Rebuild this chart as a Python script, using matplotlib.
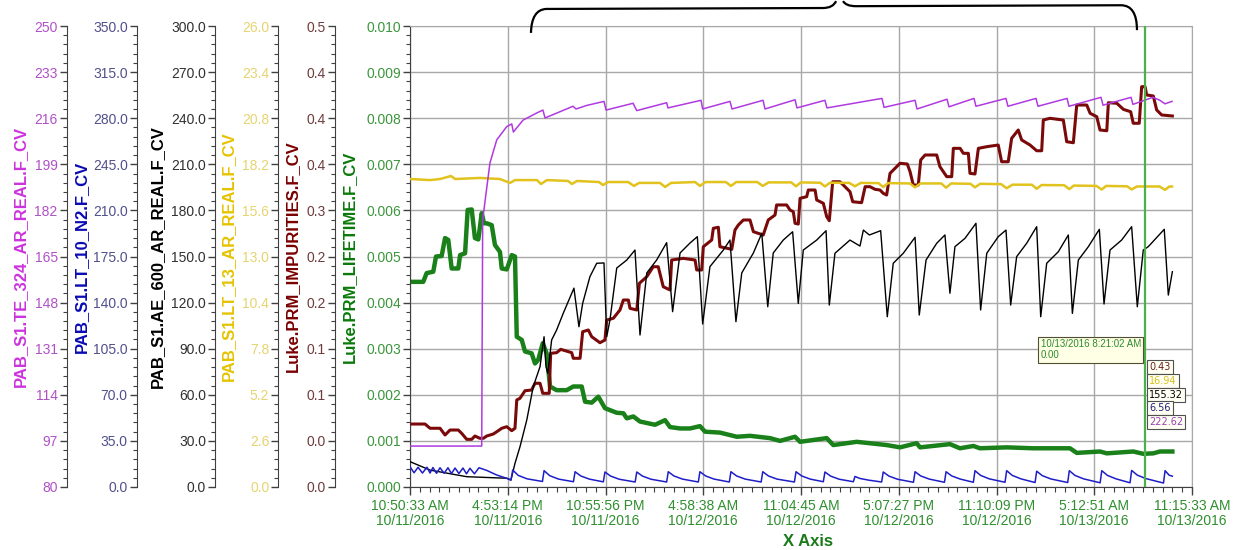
import numpy as np
import matplotlib
matplotlib.use('Agg')
import matplotlib.pyplot as plt
import matplotlib.transforms as mtransforms
from matplotlib.path import Path
from matplotlib.patches import PathPatch
from matplotlib.ticker import AutoMinorLocator

plt.rcParams['font.family'] = ['Liberation Sans', 'DejaVu Sans']

# x values are hours after 10/11/2016 10:50:33 AM
span_hours = 48.4167
x_labels = ['10:50:33 AM\n10/11/2016', '4:53:14 PM\n10/11/2016', '10:55:56 PM\n10/11/2016',
            '4:58:38 AM\n10/12/2016', '11:04:45 AM\n10/12/2016', '5:07:27 PM\n10/12/2016',
            '11:10:09 PM\n10/12/2016', '5:12:51 AM\n10/13/2016', '11:15:33 AM\n10/13/2016']

# Luke.PRM_LIFETIME.F_CV (green, main axis)
lifetime_hours = [0.00, 0.82, 1.03, 1.44, 1.61, 1.96, 2.17, 2.37, 2.58, 2.99,
                  3.10, 3.41, 3.57, 3.82, 4.02, 4.23, 4.44, 4.58, 4.75, 5.06,
                  5.26, 5.57, 5.68, 5.99, 6.30, 6.50, 6.61, 6.92, 7.12, 7.53,
                  7.74, 7.94, 8.22, 8.46, 8.67, 9.08, 9.70, 10.11, 10.63, 10.84,
                  11.25, 11.66, 12.07, 12.80, 13.21, 13.42, 13.83, 14.24, 15.17, 15.79,
                  16.10, 16.72, 17.34, 17.95, 18.27, 19.19, 20.23, 21.05, 22.29, 22.91,
                  23.84, 24.15, 25.80, 26.21, 27.66, 29.51, 30.34, 31.37, 31.58, 33.43,
                  34.05, 34.88, 35.29, 36.94, 38.59, 40.86, 41.28, 42.72, 43.14, 44.78,
                  45.40, 46.02, 46.43, 47.20]
lifetime_values = [0.00445, 0.00445, 0.00464, 0.00467, 0.00500, 0.00501, 0.00540, 0.00536, 0.00474, 0.00474,
                   0.00503, 0.00507, 0.00601, 0.00602, 0.00540, 0.00537, 0.00594, 0.00572, 0.00572, 0.00568,
                   0.00525, 0.00510, 0.00474, 0.00472, 0.00503, 0.00500, 0.00326, 0.00319, 0.00294, 0.00290,
                   0.00268, 0.00276, 0.00312, 0.00290, 0.00218, 0.00210, 0.00210, 0.00218, 0.00218, 0.00185,
                   0.00183, 0.00196, 0.00171, 0.00161, 0.00160, 0.00149, 0.00153, 0.00142, 0.00135, 0.00145,
                   0.00130, 0.00127, 0.00127, 0.00132, 0.00120, 0.00118, 0.00109, 0.00111, 0.00106, 0.00100,
                   0.00109, 0.00098, 0.00106, 0.00091, 0.00098, 0.00091, 0.00086, 0.00095, 0.00086, 0.00093,
                   0.00084, 0.00089, 0.00084, 0.00086, 0.00084, 0.00084, 0.00074, 0.00077, 0.00073, 0.00077,
                   0.00072, 0.00073, 0.00077, 0.00077]

# Luke.PRM_IMPURITIES.F_CV (maroon)
impurity_hours = [0.00, 0.93, 1.24, 1.86, 2.17, 2.48, 2.99, 3.20, 3.51, 3.82,
                  4.02, 4.33, 4.54, 4.75, 5.16, 5.47, 5.68, 5.99, 6.30, 6.50,
                  6.61, 6.81, 7.12, 7.53, 7.74, 8.05, 8.22, 8.62, 8.71, 9.08,
                  9.33, 10.01, 10.11, 10.53, 10.69, 11.04, 11.25, 11.76, 12.07, 12.18,
                  12.59, 13.00, 13.21, 13.52, 13.62, 14.04, 14.20, 14.66, 15.06, 15.37,
                  15.68, 16.10, 16.20, 16.92, 17.65, 17.75, 18.06, 18.16, 18.68, 18.78,
                  19.09, 19.19, 19.92, 20.12, 20.33, 20.64, 21.05, 21.26, 21.87, 22.18,
                  22.60, 22.70, 23.32, 23.53, 23.73, 23.84, 24.04, 24.15, 24.56, 24.66,
                  25.08, 25.18, 25.59, 25.80, 25.96, 26.17, 26.62, 26.83, 27.24, 27.41,
                  27.96, 28.18, 28.48, 28.79, 29.10, 29.30, 29.51, 29.72, 30.34, 30.79,
                  30.96, 31.16, 31.47, 31.62, 31.89, 32.61, 32.81, 33.23, 33.54, 33.64,
                  34.06, 34.26, 34.57, 34.67, 34.98, 35.19, 35.71, 36.42, 36.63, 37.04,
                  37.25, 37.66, 37.87, 38.39, 38.80, 39.11, 39.21, 39.62, 40.45, 40.66,
                  41.07, 41.28, 41.90, 42.11, 42.52, 42.72, 43.14, 43.24, 43.76, 44.17,
                  44.62, 44.78, 45.15, 45.30, 45.51, 45.61, 46.02, 46.23, 46.54, 47.20]
impurity_values = [.0683, .0683, .0637, .0637, .0564, .0618, .0618, .0582, .0517, .0517,
                   .0553, .0528, .0528, .0553, .0575, .0611, .0637, .0654, .0611, .0637,
                   .0944, .0962, .1044, .1052, .1125, .1125, .1016, .1016, .1450, .1457,
                   .1493, .1457, .1396, .1396, .1684, .1703, .1630, .1565, .1594, .1811,
                   .1830, .1920, .2028, .2028, .1938, .1920, .2209, .2281, .2389, .2389,
                   .2172, .2137, .2462, .2480, .2462, .2354, .2354, .2606, .2679, .2806,
                   .2817, .2606, .2578, .2787, .2842, .2896, .2896, .2769, .2733, .2896,
                   .2950, .3059, .3059, .3004, .2986, .2860, .2852, .3131, .3149, .3221,
                   .3221, .3113, .3077, .2932, .2888, .3311, .3311, .3275, .3203, .3094,
                   .3084, .3257, .3257, .3229, .3221, .3185, .3167, .3402, .3511, .3503,
                   .3420, .3275, .3275, .3547, .3601, .3601, .3474, .3366, .3366, .3673,
                   .3673, .3619, .3619, .3402, .3395, .3673, .3691, .3709, .3528, .3528,
                   .3782, .3872, .3764, .3709, .3647, .3647, .3980, .3999, .3980, .3745,
                   .3734, .4143, .4143, .4053, .4016, .3872, .3864, .4168, .4162, .4096,
                   .4070, .3945, .3945, .4342, .4342, .4252, .4241, .4089, .4035, .4024]

# PAB_S1.LT_13_AR_REAL.F_CV (yellow)
lt13_hours = [0.00, 1.24, 1.86, 2.54, 2.79, 4.33, 5.57, 6.19, 6.50, 7.86,
              8.11, 8.48, 9.78, 10.03, 10.34, 11.70, 11.95, 12.26, 13.50, 13.87,
              14.18, 15.48, 15.79, 16.16,
              17.65, 17.95, 18.30, 19.55, 19.87, 20.20, 21.50, 21.84, 22.20,
              23.60, 23.90, 24.20, 25.40, 25.69, 26.00, 27.20, 27.55, 27.90,
              29.00, 29.30, 29.60, 30.95, 31.27, 31.60, 32.90, 33.19, 33.50,
              34.70, 34.98, 35.30, 36.60, 36.94, 37.30, 38.50, 38.80, 39.10,
              40.50, 40.82, 41.10, 42.50, 42.83, 43.10, 44.40, 44.68, 45.00,
              46.40, 46.75, 47.00, 47.18]
lt13_values = [17.37, 17.31, 17.37, 17.54, 17.37, 17.43, 17.37, 17.15, 17.31, 17.31,
               17.09, 17.31, 17.26, 17.09, 17.26, 17.20, 17.03, 17.20, 17.20, 16.98,
               17.15, 17.15, 16.92, 17.15,
               17.20, 16.98, 17.20, 17.20, 16.98, 17.20, 17.20, 16.98, 17.18,
               17.18, 16.96, 17.18, 17.16, 16.95, 17.16, 17.15, 16.96, 17.15,
               17.14, 16.92, 17.14, 17.12, 16.90, 17.12, 17.12, 16.88, 17.12,
               17.10, 16.90, 17.10, 17.08, 16.85, 17.05, 17.05, 16.82, 17.03,
               17.02, 16.80, 17.00, 16.98, 16.78, 16.98, 16.96, 16.78, 16.95,
               16.95, 16.76, 16.94, 16.95]

# PAB_S1.AE_600_AR_REAL.F_CV (black)
ae600_hours = [0.00, 1.24, 3.51, 5.99, 6.25, 6.50, 6.81, 7.23, 7.63, 8.05, 8.30,
               8.42, 8.53, 8.77, 9.08, 9.49, 10.15, 10.46, 10.69, 11.14, 11.56,
               12.01, 12.18, 12.38, 12.80, 13.42, 13.93, 14.24, 14.66, 15.27, 15.89,
               16.26, 16.72, 17.34, 17.79, 18.12, 18.57, 19.40, 19.81, 20.18, 20.54,
               21.26, 21.78, 22.15, 22.49, 23.11, 23.69, 24.04, 24.35, 25.18, 25.76,
               25.96, 26.31, 27.24, 27.86, 28.07, 28.44, 29.14, 29.55, 29.92, 30.54,
               31.27, 31.53, 31.95, 32.61, 33.12, 33.43, 33.74, 34.36, 35.04, 35.33,
               35.71, 36.42, 36.90, 37.19, 37.56, 38.18, 38.80, 39.05, 39.42, 40.14,
               40.76, 41.01, 41.38, 42.00, 42.68, 42.97, 43.34, 44.06, 44.68, 45.03,
               45.40, 45.71, 46.70, 46.95, 47.20]
ae600_values = [16.5, 11.0, 6.7, 5.7, 4.6, 15.4, 26.2, 43.6, 65.3, 78.3, 97.8,
                78.3, 74.0, 95.7, 102.2, 113.1, 129.4, 104.3, 119.5, 136.9, 145.6,
                145.8, 97.8, 108.7, 142.5, 147.7, 154.2, 98.9, 139.3, 147.7, 159.0,
                114.1, 152.3, 158.8, 162.9, 106.1, 143.4, 154.2, 160.7, 107.6, 139.3,
                152.3, 165.1, 117.3, 152.3, 160.7, 166.1, 119.5, 154.2, 160.7, 166.8,
                118.4, 152.1, 160.7, 156.8, 167.2, 164.0, 166.8, 110.8, 145.6, 152.1,
                162.5, 111.9, 147.7, 158.6, 164.0, 126.1, 156.4, 161.8, 171.6, 115.2,
                152.1, 162.9, 167.2, 118.4, 149.9, 158.6, 169.4, 110.8, 145.6, 153.1,
                164.0, 113.0, 147.7, 156.4, 167.7, 119.1, 154.2, 160.7, 169.4, 117.3,
                154.2, 156.4, 167.7, 124.9, 140.1]

# PAB_S1.LT_10_N2.F_CV (blue)
lt10_hours = [0.00, 0.25, 0.50, 0.77, 1.05, 1.24, 1.42, 1.64, 1.86, 2.11,
              2.35, 2.57, 2.79, 3.03, 3.28, 3.50, 3.71, 3.99, 4.27, 4.75,
              5.37, 5.99, 6.25,
              6.36, 6.70, 7.25, 8.20, 8.30, 8.65, 9.20, 10.12,
              10.22, 10.57, 11.10, 11.97, 12.07, 12.42, 12.95, 13.94,
              14.04, 14.39, 14.92, 15.89, 15.99, 16.34, 16.87, 17.85,
              17.95, 18.30, 18.83, 19.77, 19.87, 20.22, 20.75, 21.74,
              21.84, 22.19, 22.72, 23.80, 23.90, 24.25, 24.78, 25.59,
              25.69, 26.04, 26.57, 27.45, 27.55, 27.85, 28.40, 29.20,
              29.30, 29.65, 30.18, 31.17, 31.27, 31.62, 32.15, 33.09,
              33.19, 33.54, 34.07, 34.88, 34.98, 35.33, 35.86, 36.84,
              36.94, 37.29, 37.82, 38.70, 38.80, 39.15, 39.68, 40.72,
              40.82, 41.17, 41.70, 42.73, 42.83, 43.18, 43.71, 44.58,
              44.68, 45.03, 45.56, 46.65, 46.75, 47.00, 47.20]
lt10_values = [15.4, 10.8, 15.0, 10.6, 15.0, 10.6, 14.8, 10.4, 14.6, 10.4,
               14.6, 10.2, 14.4, 10.2, 14.4, 10.0, 14.2, 10.0, 14.6, 12.6,
               9.1, 6.6, 5.2,
               12.9, 8.8, 6.2, 4.2, 12.4, 8.6, 6.0, 4.0,
               11.6, 8.4, 6.0, 3.9, 11.4, 8.3, 5.9, 3.8,
               11.4, 8.3, 5.9, 3.8, 11.6, 8.4, 6.0, 3.8,
               11.6, 8.4, 6.0, 3.8, 11.6, 8.4, 6.0, 3.8,
               11.6, 8.4, 6.0, 3.8, 11.6, 8.4, 6.0, 4.0,
               11.4, 8.3, 5.9, 4.0, 8.0, 6.5, 5.2, 3.8,
               11.4, 8.3, 5.9, 3.6, 11.6, 8.4, 6.0, 3.6,
               11.6, 8.4, 6.0, 3.6, 12.4, 8.8, 6.2, 3.6,
               12.4, 8.8, 6.2, 3.4, 12.0, 8.6, 6.1, 3.4,
               12.4, 8.8, 6.2, 3.2, 12.4, 8.8, 6.2, 3.2,
               12.6, 9.0, 6.4, 3.0, 12.4, 9.0, 8.2]

# PAB_S1.TE_324_AR_REAL.F_CV (purple)
te324_hours = [0.00, 4.44, 4.50, 4.71, 4.95, 5.37, 5.99, 6.30, 6.40, 7.00,
               7.84, 8.23, 8.36, 9.29, 10.09, 10.28, 10.94, 12.01, 12.14, 13.81,
               14.04, 15.89, 15.97, 18.02, 18.12, 19.81, 19.94, 21.86, 21.98, 23.84,
               23.96, 25.69, 25.82, 29.22, 29.35, 31.27, 31.39, 33.25, 33.37, 34.92,
               35.04, 36.90, 37.02, 38.76, 38.88, 40.68, 40.80, 42.78, 42.91, 44.64,
               44.76, 46.00, 46.43, 46.74, 47.18]
te324_values = [95.1, 95.1, 178.5, 188.4, 199.5, 208.0, 212.9, 213.9, 210.9, 215.3,
                217.9, 219.0, 216.1, 218.4, 220.4, 219.4, 220.7, 222.2, 219.0, 221.5,
                218.8, 221.7, 219.8, 222.6, 219.4, 222.2, 219.4, 222.6, 219.4, 222.8,
                219.8, 222.6, 219.8, 223.3, 220.0, 222.6, 219.4, 223.0, 220.2, 223.3,
                220.4, 223.3, 220.4, 223.3, 220.4, 223.3, 220.4, 223.7, 220.8, 223.7,
                221.1, 223.7, 222.6, 221.3, 222.2]

# axis ticks
lifetime_ticks = [0.000, 0.001, 0.002, 0.003, 0.004, 0.005, 0.006, 0.007, 0.008, 0.009, 0.010]
impurity_ticks = [0.0, 0.05, 0.1, 0.15, 0.2, 0.25, 0.3, 0.35, 0.4, 0.45, 0.5]
impurity_tick_labels = ['0.0', '0.0', '0.1', '0.1', '0.2', '0.2', '0.3', '0.4', '0.4', '0.4', '0.5']
lt13_ticks = [0.0, 2.6, 5.2, 7.8, 10.4, 13.0, 15.6, 18.2, 20.8, 23.4, 26.0]
ae600_ticks = [0, 30, 60, 90, 120, 150, 180, 210, 240, 270, 300]
lt10_ticks = [0, 35, 70, 105, 140, 175, 210, 245, 280, 315, 350]
te324_ticks = [80, 97, 114, 131, 148, 165, 182, 199, 216, 233, 250]

# cursor readout
cursor_hour = 45.51
cursor_text = '10/13/2016 8:21:02 AM\n0.00'
readouts = ['0.43', '16.94', '155.32', '6.56', '222.62']
readout_colors = ['#6b2020', '#d8c21e', '#000000', '#20207a', '#9a40b8']

AXIS_DARK = '#404040'

fig = plt.figure(figsize=(12.36, 5.5), dpi=100)
ax = fig.add_axes([410 / 1236, 63 / 550, 782 / 1236, 461 / 550])


def style_y(a, ticks, labels, tick_color, title, title_color, title_x):
    a.set_ylim(ticks[0], ticks[-1])
    a.set_yticks(ticks)
    a.set_yticklabels(labels)
    a.yaxis.set_minor_locator(AutoMinorLocator(5))
    a.tick_params(axis='y', which='major', left=True, labelleft=True, right=False,
                  labelright=False, length=5, width=1, color=AXIS_DARK,
                  labelcolor=tick_color, labelsize=10, pad=1.5)
    a.tick_params(axis='y', which='minor', left=True, right=False, length=3,
                  width=0.8, color=AXIS_DARK)
    a.set_ylabel(title, color=title_color, fontsize=12, fontweight='bold')
    a.yaxis.set_label_coords(title_x, 0.5)


def side_axis(offset):
    t = ax.twinx()
    t.spines['left'].set_position(('axes', offset))
    t.spines['left'].set_visible(True)
    t.spines['left'].set_color(AXIS_DARK)
    for s in ('right', 'top', 'bottom'):
        t.spines[s].set_visible(False)
    t.yaxis.set_ticks_position('left')
    t.yaxis.set_label_position('left')
    return t


# main (green) axis
ax.set_xlim(0, span_hours)
style_y(ax, lifetime_ticks, [f'{v:.3f}' for v in lifetime_ticks], '#3c963c',
        'Luke.PRM_LIFETIME.F_CV', '#0a7a0a', -0.068)
ax.set_xticks(np.linspace(0, span_hours, 9))
ax.set_xticklabels(x_labels)
for lab in ax.get_xticklabels():
    lab.set_linespacing(1.05)
ax.xaxis.set_minor_locator(AutoMinorLocator(10))
ax.tick_params(axis='x', which='major', length=6, width=1, color=AXIS_DARK,
               labelcolor='#2f8f2f', labelsize=10, pad=3)
ax.tick_params(axis='x', which='minor', length=3.5, width=0.8, color=AXIS_DARK)
ax.grid(True, which='major', color='#a8a8a8', lw=1)
ax.set_axisbelow(True)
for s in ('top', 'right'):
    ax.spines[s].set_color('#a8a8a8')
for s in ('left', 'bottom'):
    ax.spines[s].set_color(AXIS_DARK)
ax.set_xlabel('X Axis', fontsize=12, fontweight='bold', color='#1a7a1a')
ax.xaxis.set_label_coords(0.509, -0.102)
ax.plot(lifetime_hours, lifetime_values, color='#1a801a', lw=3.2)

imp_ax = side_axis(-0.0959)
style_y(imp_ax, impurity_ticks, impurity_tick_labels, '#6e3c3c',
        'Luke.PRM_IMPURITIES.F_CV', '#7a0000', -0.141)
imp_ax.plot(impurity_hours, impurity_values, color='#7a0a0a', lw=2.2)

lt13_ax = side_axis(-0.1684)
style_y(lt13_ax, lt13_ticks, [f'{v:.1f}' for v in lt13_ticks], '#e6d470',
        'PAB_S1.LT_13_AR_REAL.F_CV', '#e6c300', -0.222)
lt13_ax.plot(lt13_hours, lt13_values, color='#e2c21c', lw=1.8)

ae_ax = side_axis(-0.2494)
style_y(ae_ax, ae600_ticks, [f'{v:.1f}' for v in ae600_ticks], '#303030',
        'PAB_S1.AE_600_AR_REAL.F_CV', '#000000', -0.314)
ae_ax.plot(ae600_hours, ae600_values, color='black', lw=1.0)

lt10_ax = side_axis(-0.3495)
style_y(lt10_ax, lt10_ticks, [f'{v:.1f}' for v in lt10_ticks], '#50508c',
        'PAB_S1.LT_10_N2.F_CV', '#0a0ab4', -0.411)
lt10_ax.plot(lt10_hours, lt10_values, color='#1e1ec8', lw=1.1)

te_ax = side_axis(-0.4390)
style_y(te_ax, te324_ticks, [f'{v:d}' for v in te324_ticks], '#b050c8',
        'PAB_S1.TE_324_AR_REAL.F_CV', '#cc33dd', -0.488)
te_ax.plot(te324_hours, te324_values, color='#b03ae0', lw=1.1)

# cursor and readouts
te_ax.axvline(cursor_hour, color='#4cb04c', lw=1.6)
mixed = mtransforms.blended_transform_factory(te_ax.transData, te_ax.transAxes)
te_ax.annotate(cursor_text, xy=(cursor_hour, 0.323), xycoords=mixed,
               xytext=(-3, -1), textcoords='offset points', ha='right', va='top',
               multialignment='left', fontsize=7, color='#2e8b2e',
               family='Liberation Sans', linespacing=1.1,
               bbox=dict(boxstyle='square,pad=0.25', fc='#ffffe6', ec='#505030', lw=0.8))
for i, (txt, col) in enumerate(zip(readouts, readout_colors)):
    te_ax.annotate(txt, xy=(cursor_hour, 0.26), xycoords=mixed,
                   xytext=(3, -i * 9.9), textcoords='offset points', ha='left', va='center',
                   fontsize=7, color=col, family='DejaVu Sans',
                   bbox=dict(boxstyle='square,pad=0.2', fc='#fffff4', ec='#505050', lw=0.8))

# curly brace above the plot
brace = Path([(7.49, 0.985), (7.52, 1.035), (8.42, 1.037), (25.57, 1.039),
              (26.19, 1.039), (26.38, 1.054),
              (26.81, 1.054), (26.99, 1.043), (27.61, 1.043), (44.02, 1.045),
              (45.01, 1.045), (45.01, 0.991)],
             [Path.MOVETO, Path.CURVE3, Path.CURVE3, Path.LINETO, Path.CURVE3, Path.CURVE3,
              Path.MOVETO, Path.CURVE3, Path.CURVE3, Path.LINETO, Path.CURVE3, Path.CURVE3])
te_ax.add_patch(PathPatch(brace, transform=mixed, fill=False, lw=1.6,
                          edgecolor='black', clip_on=False))

fig.savefig('out.png', dpi=100)
